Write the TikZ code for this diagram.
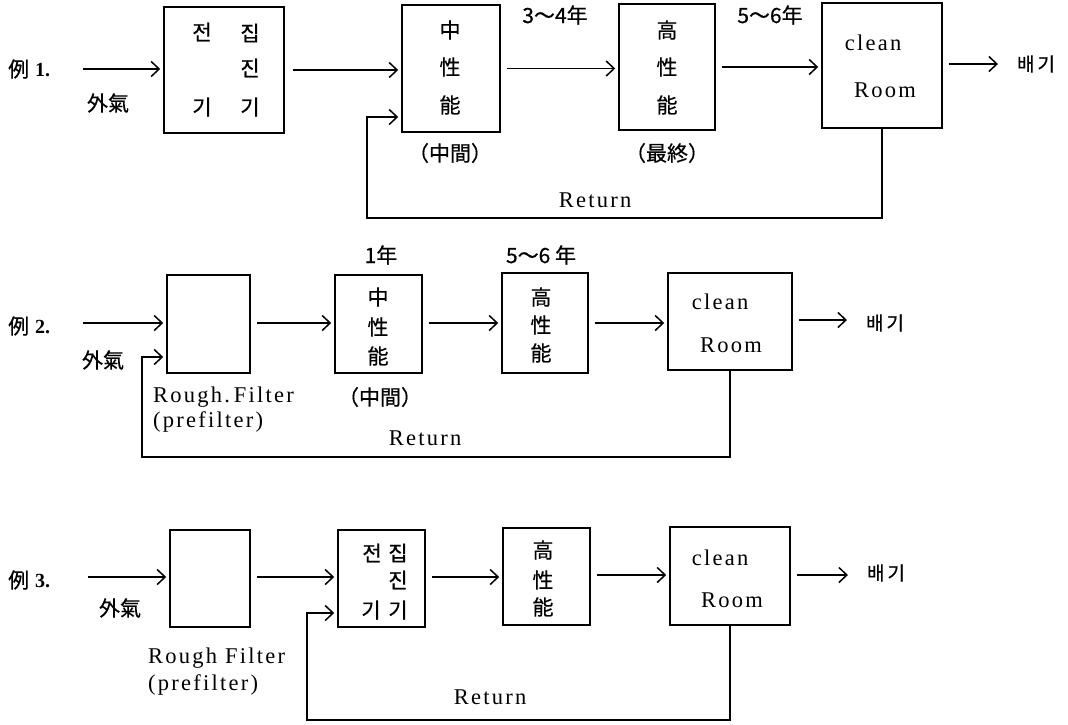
\documentclass[tikz,border=0pt]{standalone}
\usepackage{fontspec}
\setmainfont{Liberation Serif}
\newfontfamily\latf{Liberation Serif}[LetterSpace=10]
\newfontfamily\cjk{Noto Sans CJK KR}[FakeBold=0.6]
\usetikzlibrary{arrows.meta}
\begin{document}
\begin{tikzpicture}[x=1pt,y=-1pt,
  box/.style={draw, line width=1.5pt, inner sep=0pt},
  flow/.style={draw, line width=1.5pt, -{Straight Barb[length=8pt,width=15pt]}, shorten <=6pt, shorten >=3pt},
  feed/.style={draw, line width=1.5pt, -{Straight Barb[length=8pt,width=15pt]}, shorten >=3pt},
  cj/.style={font=\cjk\fontsize{21}{24}\selectfont, inner sep=0pt},
  kr/.style={font=\cjk\fontsize{19}{22}\selectfont, inner sep=0pt},
  lt/.style={font=\latf\fontsize{22.5}{26}\selectfont, inner sep=0pt},
  ex/.style={font=\cjk\fontsize{21}{24}\selectfont, inner sep=0pt, anchor=west}
]
\useasboundingbox (0,0) rectangle (1068,724);

% ---------------- Row 1 ----------------
\node[ex] (e1) at (8,69) {例\hspace{6pt}{\rmfamily\bfseries\fontsize{20}{24}\selectfont 1.}};
\node[cj] (g1) at (108,103) {外氣};
\node[box, minimum width=120pt, minimum height=126pt] (b1) at (224,70) {};
\node[box, minimum width=98pt, minimum height=127pt] (b2) at (451,68.5) {};
\node[box, minimum width=96pt, minimum height=126pt] (b3) at (667,67) {};
\node[box, minimum width=120pt, minimum height=125pt] (b4) at (882,65.5) {};

\node[cj] (t1a) at (202,32) {전};
\node[cj] (t1b) at (250,33) {집};
\node[cj] (t1c) at (250,68) {진};
\node[cj] (t1d) at (202,107) {기};
\node[cj] (t1e) at (250,107) {기};

\node[cj] (t2a) at (450,30) {中};
\node[cj] (t2b) at (450,67) {性};
\node[cj] (t2c) at (450,105) {能};
\node[cj] (t2d) at (450,153) {（中間）};
\node[cj] (y1) at (555,15) {3〜4年};

\node[cj] (t3a) at (667,30) {高};
\node[cj] (t3b) at (667,67) {性};
\node[cj] (t3c) at (667,105) {能};
\node[cj] (t3d) at (667,153) {（最終）};
\node[cj] (y2) at (770,15) {5〜6年};

\node[lt] (t4a) at (873,43) {clean};
\node[lt] (t4b) at (885,90) {Room};
\node[kr] (x1) at (1036,64) {배\hspace{3pt}기};
\node[lt] (rt1) at (595,200) {Return};

\coordinate (i1) at (83,69);
\coordinate (o1) at (998,64);
\coordinate (r1c) at (367,218);
\coordinate (r1e) at (367,117);
\draw[feed] (i1) -- (i1 -| b1.west);
\draw[flow, shorten <=8pt] (b1.east) -- (b1.east -| b2.west);
\draw[flow] (b2.east) -- (b2.east -| b3.west);
\draw[flow] (b3.east) -- (b3.east -| b4.west);
\draw[flow, shorten >=0pt] (b4.east |- o1) -- (o1);
\draw[feed] (b4.south) -- (b4.south |- r1c) -- (r1c) -- (r1e) -- (r1e -| b2.west);

% ---------------- Row 2 ----------------
\node[ex] (e2) at (8,326) {例\hspace{6pt}{\rmfamily\bfseries\fontsize{20}{24}\selectfont 2.}};
\node[cj] (g2) at (103,360) {外氣};
\node[box, minimum width=83pt, minimum height=98pt] (r2) at (208.5,324) {};
\node[box, minimum width=87pt, minimum height=98pt] (m2) at (378.5,324) {};
\node[box, minimum width=86pt, minimum height=100pt] (h2) at (545,323) {};
\node[box, minimum width=124pt, minimum height=97pt] (c2) at (730,321.5) {};

\node[lt, anchor=west] (f2a) at (153,397) {Rough.\,Filter};
\node[lt, anchor=west] (f2b) at (153,422) {(prefilter)};

\node[cj] (m2a) at (378,297) {中};
\node[cj] (m2b) at (378,327) {性};
\node[cj] (m2c) at (378,356) {能};
\node[cj] (m2d) at (380,397) {（中間）};
\node[cj] (y3) at (381,255) {1年};

\node[cj] (h2a) at (541,297) {高};
\node[cj] (h2b) at (541,325) {性};
\node[cj] (h2c) at (541,353) {能};
\node[cj] (y4) at (541,255) {5〜6 年};

\node[lt] (c2a) at (720,302) {clean};
\node[lt] (c2b) at (731,345) {Room};
\node[kr] (x2) at (885,323) {배\hspace{3pt}기};
\node[lt] (rt2) at (425,438) {Return};

\coordinate (i2) at (83,323);
\coordinate (o2) at (847,320);
\coordinate (r2c) at (142,457);
\coordinate (r2e) at (142,357);
\draw[feed] (i2) -- (i2 -| r2.west);
\draw[flow] (r2.east |- i2) -- (i2 -| m2.west);
\draw[flow] (m2.east |- h2) -- (h2.west);
\draw[flow] (h2.east) -- (h2.east -| c2.west);
\draw[flow, shorten >=0pt] (c2.east |- o2) -- (o2);
\draw[feed] (c2.south) -- (c2.south |- r2c) -- (r2c) -- (r2e) -- (r2e -| r2.west);

% ---------------- Row 3 ----------------
\node[ex] (e3) at (8,580) {例\hspace{6pt}{\rmfamily\bfseries\fontsize{20}{24}\selectfont 3.}};
\node[cj] (g3) at (120,608) {外氣};
\node[box, minimum width=80pt, minimum height=97pt] (r3) at (210,578.5) {};
\node[box, minimum width=87pt, minimum height=97pt] (k3) at (381.5,578.5) {};
\node[box, minimum width=87pt, minimum height=97pt] (h3) at (546.5,576.5) {};
\node[box, minimum width=120pt, minimum height=98pt] (c3) at (730,576) {};

\node[lt, anchor=west] (f3a) at (148,658) {Rough Filter};
\node[lt, anchor=west] (f3b) at (148,685) {(prefilter)};

\node[cj] (k3a) at (372,553) {전};
\node[cj] (k3b) at (398,553) {집};
\node[cj] (k3c) at (398,580) {진};
\node[cj] (k3d) at (371,610) {기};
\node[cj] (k3e) at (398,610) {기};

\node[cj] (h3a) at (543,550) {高};
\node[cj] (h3b) at (543,580) {性};
\node[cj] (h3c) at (543,607) {能};

\node[lt] (c3a) at (720,558) {clean};
\node[lt] (c3b) at (732,600) {Room};
\node[kr] (x3) at (886,573) {배\hspace{3pt}기};
\node[lt] (rt3) at (490,697) {Return};

\coordinate (i3) at (88,577);
\coordinate (o3) at (848,575);
\coordinate (r3c) at (307,720);
\coordinate (r3e) at (307,613);
\draw[feed] (i3) -- (i3 -| r3.west);
\draw[flow] (r3.east |- i3) -- (i3 -| k3.west);
\draw[flow] (k3.east |- i3) -- (i3 -| h3.west);
\draw[flow] (h3.east |- o3) -- (o3 -| c3.west);
\draw[flow, shorten >=0pt] (c3.east |- o3) -- (o3);
\draw[feed] (c3.south) -- (c3.south |- r3c) -- (r3c) -- (r3e) -- (r3e -| k3.west);
\end{tikzpicture}
\end{document}
